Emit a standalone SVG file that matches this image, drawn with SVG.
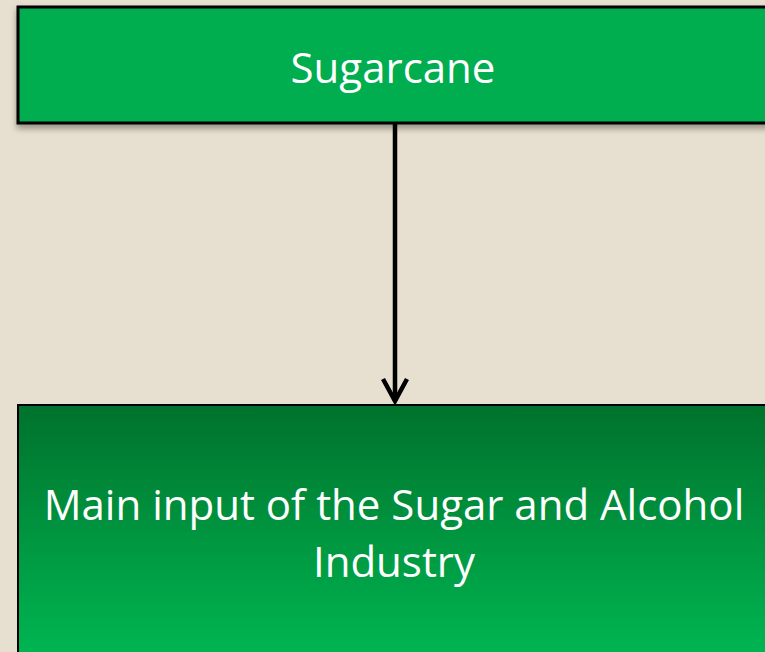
<svg xmlns="http://www.w3.org/2000/svg" width="765" height="652" viewBox="0 0 765 652">
<defs>
<linearGradient id="g2" x1="0" y1="0" x2="0" y2="1">
<stop offset="0" stop-color="#00722C"/>
<stop offset="1" stop-color="#00B853"/>
</linearGradient>
<filter id="sh" x="-10%" y="-10%" width="120%" height="130%">
<feDropShadow dx="0" dy="4" stdDeviation="3" flood-color="#000" flood-opacity="0.35"/>
</filter>
<style>
.t{font-family:"Open Sans","Noto Sans","Liberation Sans",sans-serif;fill:#fff;font-size:42px;text-anchor:middle}
</style>
</defs>
<rect width="765" height="652" fill="#E7DFCF"/>
<g id="connectors">
<line x1="395" y1="123" x2="395" y2="401" stroke="#000" stroke-width="4.5"/>
<polyline points="383,379 395,401 407,379" fill="none" stroke="#000" stroke-width="4.5"/>
</g>
<g id="sugarcane">
<rect x="18" y="7" width="760" height="116" fill="#00AD50" stroke="#000" stroke-width="3" filter="url(#sh)"/>
<text class="t" x="393" y="83">Sugarcane</text>
</g>
<g id="main-input">
<rect x="18" y="405" width="760" height="260" fill="url(#g2)" stroke="#000" stroke-width="2"/>
<text class="t" x="394" y="520">Main input of the Sugar and Alcohol</text>
<text class="t" x="394" y="577">Industry</text>
</g>
</svg>
